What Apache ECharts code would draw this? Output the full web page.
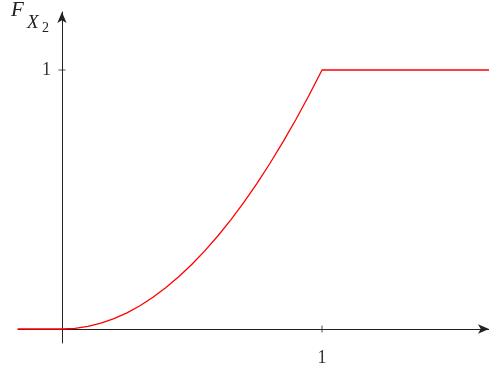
<!DOCTYPE html>
<html>
<head>
<meta charset="utf-8">
<script src="https://cdn.jsdelivr.net/npm/echarts@6/dist/echarts.min.js"></script>
<style>html,body{margin:0;padding:0;background:#fff}#c{width:489px;height:367px}</style>
</head>
<body>
<div id="c"></div>
<script>
// Values
const xValues = [-0.17, 0, 0.05, 0.1, 0.15, 0.2, 0.25, 0.3, 0.35, 0.4, 0.45, 0.5, 0.55, 0.6, 0.65, 0.7, 0.75, 0.8, 0.85, 0.9, 0.95, 1.0, 1.65];
const yValues = [0, 0, 0.0025, 0.01, 0.0225, 0.04, 0.0625, 0.09, 0.1225, 0.16, 0.2025, 0.25, 0.3025, 0.36, 0.4225, 0.49, 0.5625, 0.64, 0.7225, 0.81, 0.9025, 1.0, 1.0];
const xTicks = [1];
const yTicks = [1];
const xTickLabels = ['1'];
const yTickLabels = ['1'];
const axisTitleParts = ['F', 'X', '2'];

const X_MIN = -0.169, X_MAX = 1.642, Y_MIN = -0.054, Y_MAX = 1.224;
const axisColor = '#222';
const serif = '"Liberation Serif", serif';

const chart = echarts.init(document.getElementById('c'));
chart.setOption({
  animation: false,
  graphic: [
    {type: 'text', left: 11, top: 0, style: {text: axisTitleParts[0], font: 'italic 21px ' + serif, fill: '#222'}},
    {type: 'text', left: 27, top: 13, style: {text: axisTitleParts[1], font: 'italic 19px ' + serif, fill: '#222'}},
    {type: 'text', left: 42, top: 21, style: {text: axisTitleParts[2], font: '14px ' + serif, fill: '#222'}}
  ],
  grid: {left: 18, right: 0, top: 12, bottom: 24, outerBoundsMode: 'none', containLabel: false},
  xAxis: {
    type: 'value', min: X_MIN, max: X_MAX,
    splitLine: {show: false},
    axisLine: {onZero: true, lineStyle: {color: axisColor, width: 1}, symbol: ['none', 'arrow'], symbolSize: [7, 11]},
    axisTick: {show: false},
    axisLabel: {
      customValues: xTicks, margin: 6,
      formatter: v => xTickLabels[xTicks.indexOf(v)] ?? '',
      fontFamily: 'Liberation Serif', fontSize: 18, color: '#333'
    }
  },
  yAxis: {
    type: 'value', min: Y_MIN, max: Y_MAX,
    splitLine: {show: false},
    axisLine: {onZero: true, lineStyle: {color: axisColor, width: 1}, symbol: ['none', 'arrow'], symbolSize: [7, 11]},
    axisTick: {show: false},
    axisLabel: {
      customValues: yTicks, margin: -33,
      formatter: v => yTickLabels[yTicks.indexOf(v)] ?? '',
      fontFamily: 'Liberation Serif', fontSize: 18, color: '#333'
    }
  },
  series: [
    {
      type: 'scatter', silent: true,
      symbol: 'rect', symbolSize: [1, 7],
      itemStyle: {color: axisColor},
      data: xTicks.map(v => [v, 0]), z: 1
    },
    {
      type: 'scatter', silent: true,
      symbol: 'rect', symbolSize: [7, 1],
      itemStyle: {color: axisColor},
      data: yTicks.map(v => [0, v]), z: 1
    },
    {
      type: 'line', showSymbol: false, silent: true,
      lineStyle: {color: '#ff0000', width: 1.3},
      data: xValues.map((x, i) => [x, yValues[i]]), z: 3
    }
  ]
});
</script>
</body>
</html>
